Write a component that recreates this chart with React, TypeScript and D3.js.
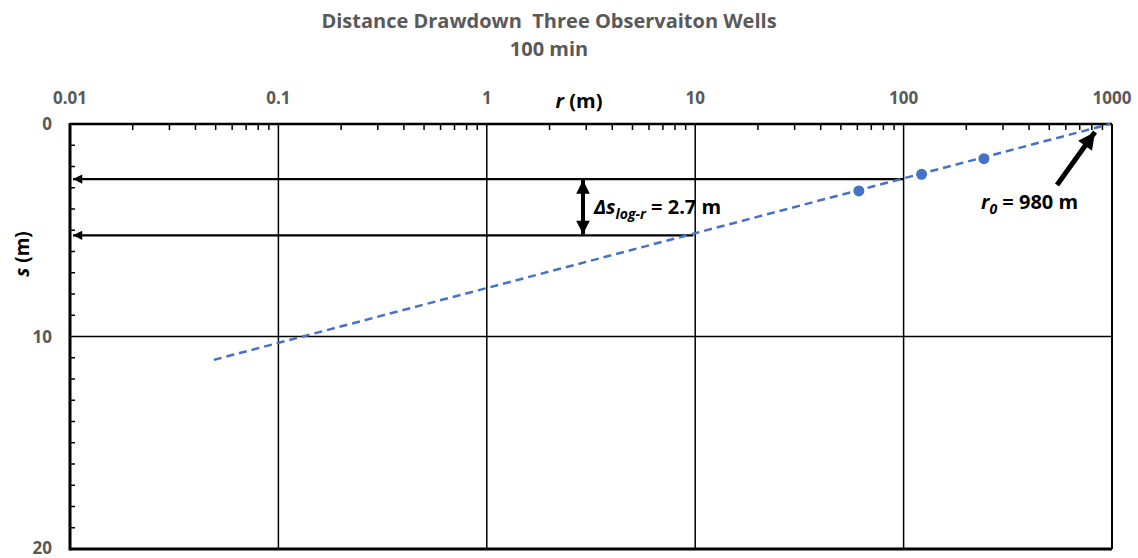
import React from "react";
import * as d3 from "d3";

const titleLines = ["Distance Drawdown\u00A0\u00A0Three Observaiton Wells", "100 min"];
const xTicks = [0.01, 0.1, 1, 10, 100, 1000];
const xTickLabels = ["0.01", "0.1", "1", "10", "100", "1000"];
const yTicks = [0, 10, 20];
const yTickLabels = ["0", "10", "20"];
const wellR = [61, 122, 243];
const wellS = [3.15, 2.37, 1.63];
const fitR = [0.049, 980];
const fitS = [11.1, 0];
const arrowS = [2.59, 5.24];
const arrowR = [100, 9.8];

const W = 1138, H = 558;
const L = 70, R = 1112, T = 124, B = 549;
const gray = "#595959";
const font = "'Open Sans', Lato, sans-serif";

export default function App() {
  const x = d3.scaleLog().domain([0.01, 1000]).range([L, R]);
  const y = d3.scaleLinear().domain([0, 20]).range([T, B]);

  const minorX: number[] = [];
  for (let e = -2; e < 3; e++) for (let m = 2; m <= 9; m++) minorX.push(m * Math.pow(10, e));
  const minorY = d3.range(1, 20).filter((v) => v !== 10);

  const line = d3.line<[number, number]>().x((d) => x(d[0])).y((d) => y(d[1]));
  const fit: [number, number][] = fitR.map((r, i) => [r, fitS[i]]);

  return (
    <svg width={W} height={H} style={{ position: "absolute", left: 0, top: 0, background: "#fff" }}>
      <defs>
        <marker id="ah" viewBox="0 0 10 10" refX="10" refY="5" markerWidth="5" markerHeight="4.2" orient="auto" markerUnits="strokeWidth">
          <path d="M0,0 L10,5 L0,10 z" fill="#000" />
        </marker>
        <marker id="ah2" viewBox="0 0 10 10" refX="10" refY="5" markerWidth="3.6" markerHeight="3.4" orient="auto-start-reverse" markerUnits="strokeWidth">
          <path d="M0,0 L10,5 L0,10 z" fill="#000" />
        </marker>
      </defs>
      <g fontFamily={font} fontWeight="bold" fill={gray} textAnchor="middle" fontSize={20}>
        <text x={549} y={28}>{titleLines[0]}</text>
        <text x={549} y={56}>{titleLines[1]}</text>
      </g>
      {/* gridlines */}
      {xTicks.slice(1, -1).map((t) => (
        <line key={"gx" + t} x1={x(t)} x2={x(t)} y1={T} y2={B} stroke="#000" strokeWidth={1.5} />
      ))}
      <line x1={L} x2={R} y1={y(10)} y2={y(10)} stroke="#000" strokeWidth={1.5} />
      {/* minor ticks */}
      {minorX.map((t, i) => (
        <line key={"mx" + i} x1={x(t)} x2={x(t)} y1={T} y2={T + 6} stroke="#000" strokeWidth={1.5} />
      ))}
      {minorY.map((t) => (
        <line key={"my" + t} x1={L} x2={L + 5} y1={y(t)} y2={y(t)} stroke="#000" strokeWidth={1.5} />
      ))}
      {/* frame */}
      <line x1={L} x2={R} y1={T} y2={T} stroke="#000" strokeWidth={2.5} />
      <line x1={L} x2={R} y1={B} y2={B} stroke="#000" strokeWidth={3} />
      <line x1={L} x2={L} y1={T - 1} y2={B + 1.5} stroke="#000" strokeWidth={3} />
      <line x1={R} x2={R} y1={T} y2={B} stroke="#000" strokeWidth={2} />
      {/* tick labels */}
      <g fontFamily={font} fontWeight="bold" fill={gray} fontSize={17}>
        {xTicks.map((t, i) => (
          <text key={"xl" + t} x={x(t)} y={104} textAnchor="middle">{xTickLabels[i]}</text>
        ))}
        {yTicks.map((t, i) => (
          <text key={"yl" + t} x={52} y={Math.min(y(t) + 6, 554)} textAnchor="end">{yTickLabels[i]}</text>
        ))}
      </g>
      {/* axis titles */}
      <text x={579} y={108} textAnchor="middle" fontFamily={font} fontWeight="bold" fontSize={20} fill="#000">
        <tspan fontStyle="italic">r</tspan> (m)
      </text>
      <text transform={`translate(29,254) rotate(-90)`} textAnchor="middle" fontFamily={font} fontWeight="bold" fontSize={19} fill="#000">
        <tspan fontStyle="italic">s</tspan> (m)
      </text>
      {/* horizontal arrows */}
      {arrowS.map((s, i) => (
        <line key={"ha" + i} x1={x(arrowR[i])} x2={L + 3} y1={y(s)} y2={y(s)} stroke="#000" strokeWidth={2.2} markerEnd="url(#ah)" />
      ))}
      {/* vertical double arrow */}
      <line x1={583} x2={583} y1={y(arrowS[0]) + 1} y2={y(arrowS[1]) - 1} stroke="#000" strokeWidth={4} markerStart="url(#ah2)" markerEnd="url(#ah2)" />
      <text x={594} y={214} fontFamily={font} fontWeight="bold" fontSize={20} fill="#000">
        <tspan fontStyle="italic">Δs</tspan>
        <tspan fontStyle="italic" fontSize={14} dy={5}>log-r</tspan>
        <tspan dy={-5}> = 2.7 m</tspan>
      </text>
      {/* fit line */}
      <path d={line(fit) || ""} fill="none" stroke="#4472C4" strokeWidth={2.5} strokeDasharray="8,5" />
      {wellR.map((r, i) => (
        <circle key={"pt" + i} cx={x(r)} cy={y(wellS[i])} r={5.5} fill="#4472C4" />
      ))}
      {/* r0 arrow */}
      <line x1={1057} x2={1095} y1={185} y2={132} stroke="#000" strokeWidth={5} markerEnd="url(#ah2)" />
      <text x={981} y={209} fontFamily={font} fontWeight="bold" fontSize={20} fill="#000">
        <tspan fontStyle="italic">r</tspan>
        <tspan fontStyle="italic" fontSize={14} dy={5}>0</tspan>
        <tspan dy={-5}> = 980 m</tspan>
      </text>
    </svg>
  );
}
